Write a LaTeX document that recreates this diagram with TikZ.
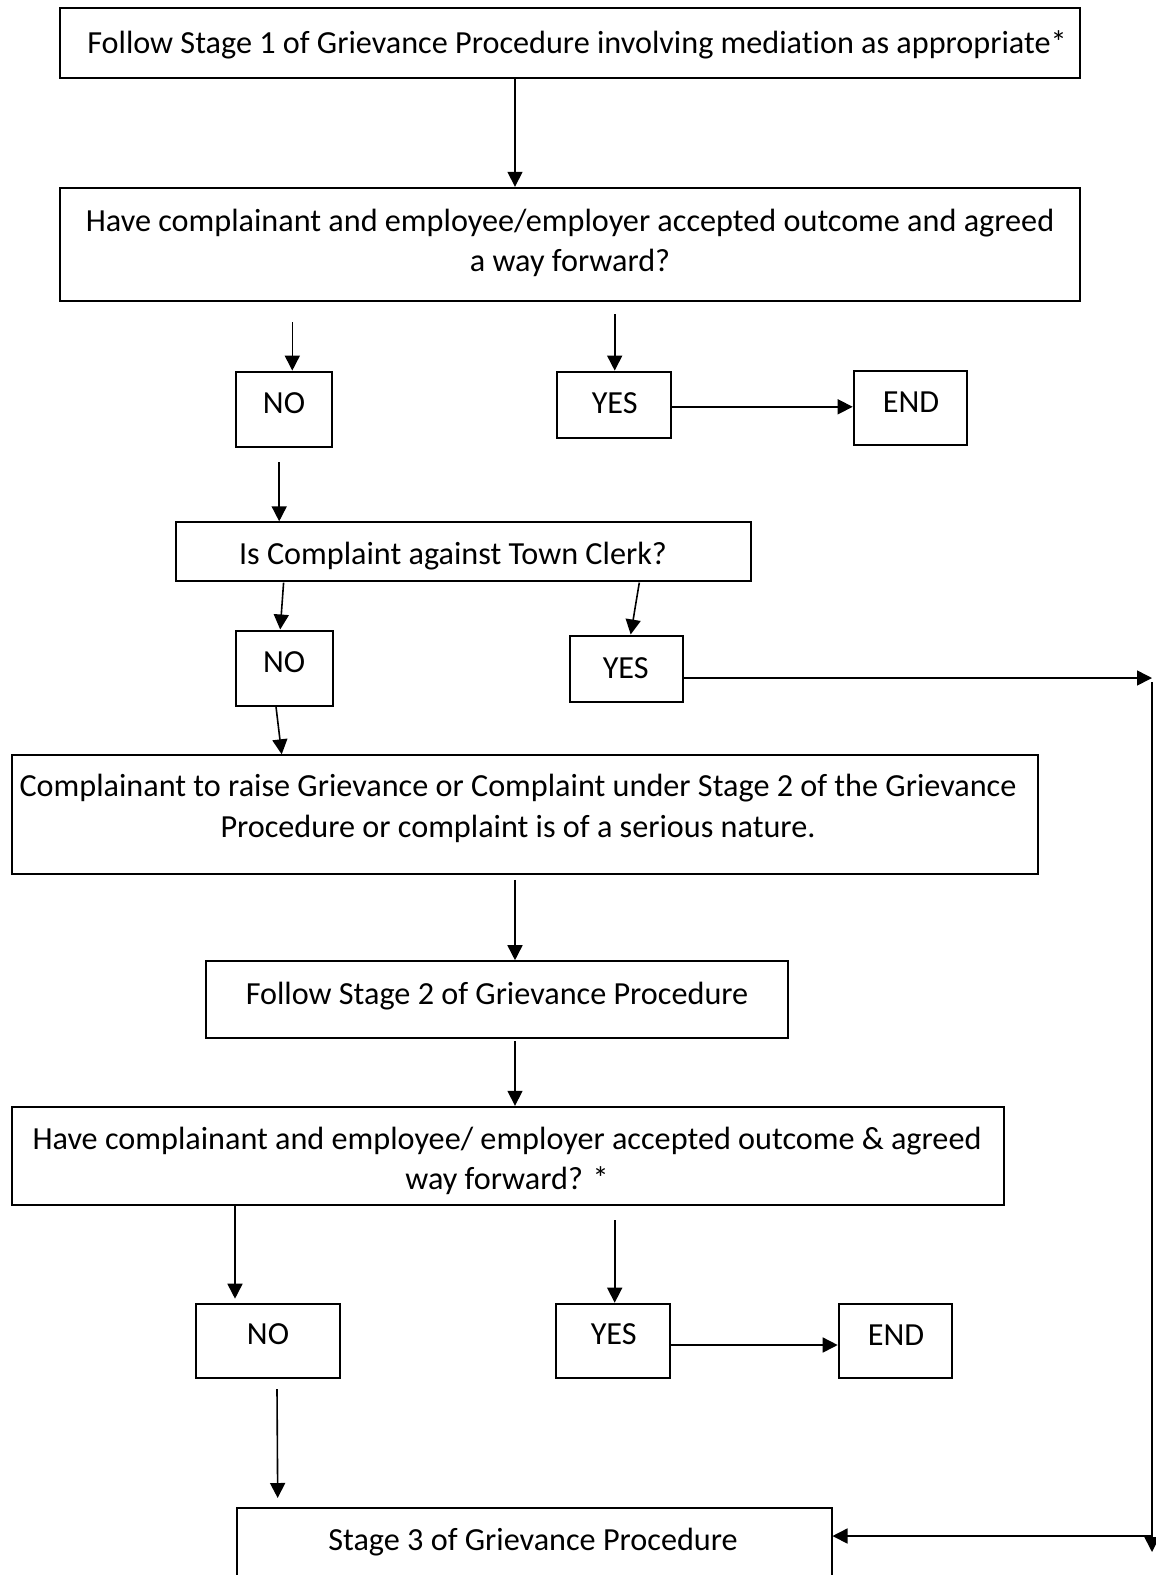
\documentclass[tikz,border=0pt]{standalone}
\usepackage{fontspec}
\setmainfont{Carlito}[Ligatures=NoCommon]
\usetikzlibrary{arrows.meta,fit}
\begin{document}
\begin{tikzpicture}[x=1pt,y=-1pt,
  box/.style={draw, line width=2pt, inner sep=0pt},
  txt/.style={inner sep=0pt, align=center, font=\fontsize{32.2}{40.2}\selectfont},
  arr/.style={line width=1.6pt, -{Triangle[length=15pt,width=15pt]}},
  plain/.style={line width=1.6pt}]
\clip (0,0) rectangle (1156,1575);
\fill[white] (0,0) rectangle (1156,1575);

% boxes
\node[box, fit={(60.3,8) (1079.7,78.3)}] (b1) {};
\node[box, fit={(60.3,187.8) (1079.7,301.3)}] (b2) {};
\node[box, fit={(236,371.6) (331.5,447)}] (no1) {};
\node[box, fit={(557.4,371.6) (671,438)}] (yes1) {};
\node[box, fit={(853.7,370.6) (967.3,445)}] (end1) {};
\node[box, fit={(175.8,522.3) (751.3,580.6)}] (b3) {};
\node[box, fit={(236,630.8) (332.5,706)}] (no2) {};
\node[box, fit={(569.5,635.8) (683,702)}] (yes2) {};
\node[box, fit={(12,755.3) (1037.6,873.8)}] (b4) {};
\node[box, fit={(206,961.2) (787.5,1038)}] (b5) {};
\node[box, fit={(12,1106.8) (1004.4,1205.3)}] (b6) {};
\node[box, fit={(195.9,1303.7) (339.5,1378)}] (no3) {};
\node[box, fit={(556.4,1303.7) (670,1378)}] (yes3) {};
\node[box, fit={(838.7,1303.7) (952.2,1378)}] (end3) {};
\node[box, fit={(237,1508) (831.5,1620)}] (b7) {};

% texts
\node[txt] (t1) at (577,45.2) {Follow Stage 1 of Grievance Procedure involving mediation as appropriate*};
\node[txt] (t2) at (570,243) {Have complainant and employee/employer accepted outcome and agreed\\a way forward?};
\node[txt] (tno1) at (284,402.8) {NO};
\node[txt] (tyes1) at (614.7,402.8) {YES};
\node[txt] (tend1) at (911,401.8) {END};
\node[txt] (t3) at (453,556.4) {Is Complaint against Town Clerk?};
\node[txt] (tno2) at (284.2,662) {NO};
\node[txt] (tyes2) at (625.7,668) {YES};
\node[txt] (t4) at (518,808.5) {Complainant to raise Grievance or Complaint under Stage 2 of the Grievance\\Procedure or complaint is of a serious nature.};
\node[txt] (t5) at (497,996.4) {Follow Stage 2 of Grievance Procedure};
\node[txt] (t6) at (507,1161) {Have complainant and employee/ employer accepted outcome \& agreed\\way forward? *};
\node[txt] (tno3) at (268,1334) {NO};
\node[txt] (tyes3) at (613.7,1334) {YES};
\node[txt] (tend3) at (896,1335) {END};
\node[txt] (t7) at (533,1541.7) {Stage 3 of Grievance Procedure};

% coordinates for connector positions
\coordinate (xa) at (515,0);
\coordinate (c2s) at (292.3,322.4);
\coordinate (c3s) at (614.7,314.4);
\coordinate (c5s) at (279.2,462);
\coordinate (c5e) at (279.2,521.3);
\coordinate (c6s) at (283.6,582.6);
\coordinate (c6e) at (280.2,629.5);
\coordinate (c7s) at (639.3,582.6);
\coordinate (c7e) at (630.7,634.5);
\coordinate (c8s) at (276,706.7);
\coordinate (c8e) at (281.7,754.3);
\coordinate (rt) at (1152,678);
\coordinate (rb) at (1152,1552);
\coordinate (rh) at (1152,1536);
\coordinate (c12) at (235,0);
\coordinate (c13s) at (614.7,1220.3);
\coordinate (c15s) at (277,1389);
\coordinate (c15e) at (277.7,1498);

% connectors
\draw[arr] (b1.south -| xa) -- (b2.north -| xa);
\draw[arr] (c2s) -- (no1.north -| c2s);
\draw[arr] (c3s) -- (yes1.north -| c3s);
\draw[arr] (yes1.east |- 0,406.8) -- (end1.west |- 0,406.8);
\draw[arr] (c5s) -- (c5e);
\draw[arr] (c6s) -- (c6e);
\draw[arr] (c7s) -- (c7e);
\draw[arr] (c8s) -- (c8e);
\draw[arr] (yes2.east |- rt) -- (rt);
\draw[arr] ([yshift=-4pt]rt) -- (rb);
\draw[arr] (rh) -- (b7.east |- rh);
\draw[arr] (b4.south -| xa) ++(0,5) -- (b5.north -| xa);
\draw[arr] (b5.south -| xa) ++(0,2) -- (b6.north -| xa);
\draw[arr] (b6.south -| c12) -- ([yshift=4pt]no3.north -| c12);
\draw[arr] (c13s) -- (yes3.north -| c13s);
\draw[arr] (yes3.east |- 0,1345) -- (end3.west |- 0,1345);
\draw[arr] (c15s) -- (c15e);
\end{tikzpicture}
\end{document}
